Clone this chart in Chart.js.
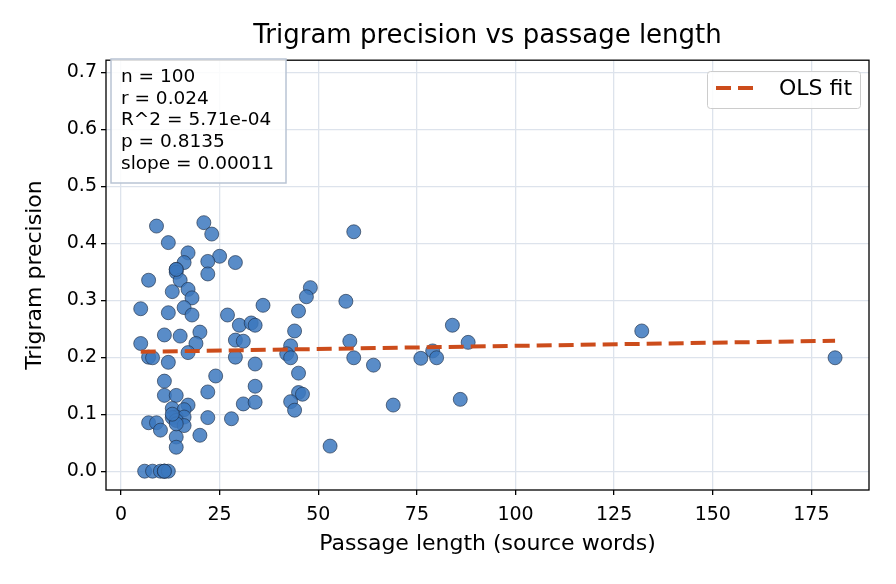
<!DOCTYPE html>
<html>
<head>
<meta charset="utf-8">
<script src="https://cdn.jsdelivr.net/npm/chart.js@4.4.1/dist/chart.umd.min.js"></script>
<style>
  html, body { margin: 0; padding: 0; background: #fff; }
</style>
</head>
<body>
<canvas id="chart" width="896" height="584"></canvas>
<script>
// data
const passageLen = [9, 21, 23, 12, 17, 25, 22, 29, 16, 14, 14, 7, 15, 22, 17, 13, 18, 5, 12, 16,
  18, 27, 30, 33, 34, 36, 11, 15, 20, 19, 5, 29, 31, 7, 8, 12, 17, 29, 34, 11,
  24, 11, 14, 22, 34, 13, 17, 16, 31, 34, 14, 13, 16, 14, 7, 9, 10, 16, 22, 28,
  14, 14, 20, 6, 8, 10, 11, 11, 12, 59, 48, 47, 45, 57, 44, 84, 43, 58, 42, 43,
  59, 64, 76, 79, 80, 88, 45, 45, 46, 43, 44, 69, 86, 53, 132, 181, 14, 13, 11, 14];
const trigramPrec = [0.430, 0.436, 0.416, 0.401, 0.383, 0.377, 0.368, 0.366, 0.366, 0.354, 0.349, 0.335, 0.335, 0.346, 0.319, 0.315, 0.304, 0.285, 0.278, 0.287,
  0.274, 0.274, 0.256, 0.260, 0.256, 0.291, 0.239, 0.237, 0.244, 0.224, 0.224, 0.230, 0.228, 0.200, 0.199, 0.191, 0.208, 0.200, 0.188, 0.158,
  0.167, 0.133, 0.133, 0.139, 0.149, 0.110, 0.116, 0.108, 0.118, 0.121, 0.095, 0.094, 0.095, 0.089, 0.085, 0.085, 0.072, 0.080, 0.094, 0.092,
  0.060, 0.042, 0.063, 0, 0, 0, 0, 0, 0, 0.420, 0.322, 0.306, 0.281, 0.298, 0.246, 0.256, 0.220, 0.228, 0.206, 0.199,
  0.199, 0.186, 0.198, 0.211, 0.199, 0.226, 0.172, 0.138, 0.135, 0.122, 0.107, 0.116, 0.126, 0.044, 0.246, 0.199, 0.083, 0.100, 0, 0.354];

// OLS line end points
const fitX = [5, 181];
const fitY = [0.2094, 0.2288];

const xTicks = [0, 25, 50, 75, 100, 125, 150, 175];
const yTicks = [0, 0.1, 0.2, 0.3, 0.4, 0.5, 0.6, 0.7];
const statsLines = ["n = 100", "r = 0.024", "R^2 = 5.71e-04", "p = 0.8135", "slope = 0.00011"];

const FONT = "'DejaVu Sans', sans-serif";

// frame, stats box and legend
const extras = {
  id: "extras",
  afterDatasetsDraw(chart) {
    const ctx = chart.ctx;
    const a = chart.chartArea;
    ctx.save();
    ctx.strokeStyle = "#000";
    ctx.lineWidth = 1.3;
    ctx.strokeRect(a.left, a.top, a.right - a.left, a.bottom - a.top);

    // stats box
    ctx.fillStyle = "rgba(255,255,255,0.85)";
    ctx.fillRect(111, 59, 175, 124);
    ctx.strokeStyle = "#b9c4d4";
    ctx.lineWidth = 1.5;
    ctx.strokeRect(111, 59, 175, 124);
    ctx.fillStyle = "#000";
    ctx.font = "18.5px " + FONT;
    ctx.textBaseline = "middle";
    statsLines.forEach((t, i) => ctx.fillText(t, 121, 77 + i * 21.7));

    // legend
    ctx.fillStyle = "rgba(255,255,255,0.85)";
    ctx.strokeStyle = "#cccccc";
    ctx.lineWidth = 1;
    ctx.beginPath();
    ctx.roundRect(707.5, 71.5, 153, 37, 3);
    ctx.fill();
    ctx.stroke();
    ctx.strokeStyle = "#cc4c1b";
    ctx.lineWidth = 4;
    ctx.setLineDash([15, 7]);
    ctx.beginPath();
    ctx.moveTo(716, 88);
    ctx.lineTo(753, 88);
    ctx.stroke();
    ctx.setLineDash([]);
    ctx.fillStyle = "#000";
    ctx.font = "22px " + FONT;
    ctx.fillText("OLS fit", 779, 89);
    ctx.restore();
  }
};

new Chart(document.getElementById("chart"), {
  data: {
    datasets: [
      {
        type: "line",
        label: "OLS fit",
        data: fitX.map((x, i) => ({ x: x, y: fitY[i] })),
        borderColor: "#cc4c1b",
        borderWidth: 4,
        borderDash: [15, 7],
        pointRadius: 0,
        fill: false,
        order: 0
      },
      {
        type: "scatter",
        label: "points",
        data: passageLen.map((x, i) => ({ x: x, y: trigramPrec[i] })),
        backgroundColor: "rgba(60,120,190,0.85)",
        borderColor: "rgba(30,45,70,0.8)",
        borderWidth: 0.8,
        pointRadius: 7,
        order: 1
      }
    ]
  },
  options: {
    responsive: false,
    animation: false,
    devicePixelRatio: 1,
    layout: { padding: { left: 0, right: 27, top: 0, bottom: 0 } },
    plugins: {
      legend: { display: false },
      tooltip: { enabled: false },
      title: {
        display: true,
        text: "Trigram precision vs passage length",
        fullSize: false,
        color: "#000",
        font: { family: FONT, size: 26, weight: "normal" },
        padding: { top: 21, bottom: 8 }
      }
    },
    scales: {
      x: {
        type: "linear",
        min: -3.8,
        max: 189.6,
        afterBuildTicks: s => { s.ticks = xTicks.map(v => ({ value: v })); },
        afterFit: s => { s.height = 94; },
        grid: { color: "#dde3ec", lineWidth: 1.3, tickColor: "#000", tickLength: 5 },
        border: { display: false },
        ticks: { color: "#000", font: { family: FONT, size: 19 }, padding: 9, maxRotation: 0 },
        title: {
          display: true,
          text: "Passage length (source words)",
          color: "#000",
          font: { family: FONT, size: 22 },
          padding: { top: 0, bottom: 27 }
        }
      },
      y: {
        type: "linear",
        min: -0.033,
        max: 0.721,
        afterBuildTicks: s => { s.ticks = yTicks.map(v => ({ value: v })); },
        afterFit: s => { s.width = 106; },
        grid: { color: "#dde3ec", lineWidth: 1.3, tickColor: "#000", tickLength: 5 },
        border: { display: false },
        ticks: { color: "#000", font: { family: FONT, size: 19 }, padding: 4, callback: v => v.toFixed(1) },
        title: {
          display: true,
          text: "Trigram precision",
          color: "#000",
          font: { family: FONT, size: 22 },
          padding: { top: 22, bottom: 0 }
        }
      }
    }
  },
  plugins: [extras]
});
</script>
</body>
</html>
